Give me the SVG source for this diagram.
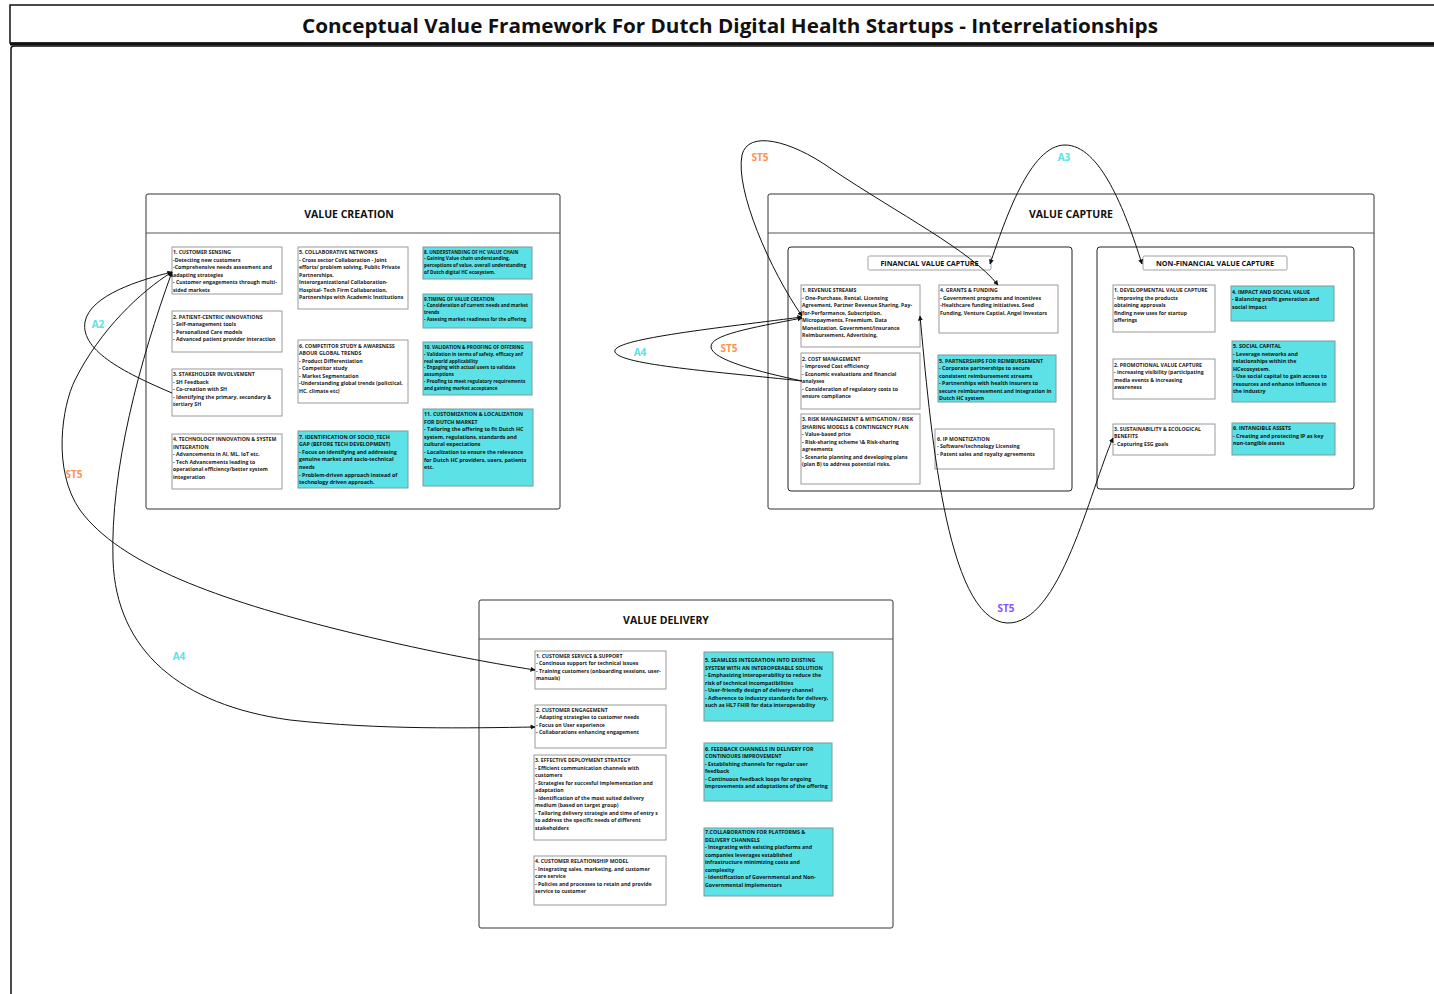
<svg xmlns="http://www.w3.org/2000/svg" width="1434" height="994" viewBox="0 0 1434 994">
  <style>
    .frame{fill:#fff;stroke:#111;stroke-width:1.5}
    .cont{fill:#fff;stroke:#333;stroke-width:1}
    .hdr{stroke:#555;stroke-width:1.2}
    .sub{fill:#fff;stroke:#222;stroke-width:1}
    .lbl{fill:#fff;stroke:#888;stroke-width:0.8}
    .wb{fill:#fff;stroke:#9a9a9a;stroke-width:1}
    .cb{fill:#5ce1e6;stroke:#7a9a9c;stroke-width:1}
    .ctitle{font-family:"Open Sans","Liberation Sans",sans-serif;font-weight:700;font-size:10.5px;fill:#111;text-anchor:middle}
    .stitle{font-family:"Open Sans","Liberation Sans",sans-serif;font-weight:700;font-size:7.2px;fill:#111;text-anchor:middle}
    .t{font-family:"Open Sans","Liberation Sans",sans-serif;font-weight:700;font-size:5.2px;fill:#222}
    .tc{font-family:"Open Sans","Liberation Sans",sans-serif;font-weight:700;font-size:5.3px;fill:#111}
    .ts{font-size:4.7px}
    .conn path{fill:none;stroke:#111;stroke-width:1}
    .tag{font-family:"Open Sans","Liberation Sans",sans-serif;font-weight:700;font-size:10px;text-anchor:middle}
    .or{fill:#ff914d}.cy{fill:#5ce1e6}.pu{fill:#8c52ff}
  </style>
  <defs>
    <marker id="arr" viewBox="0 0 10 10" refX="9" refY="5" markerWidth="5" markerHeight="5" markerUnits="userSpaceOnUse" orient="auto-start-reverse">
      <path d="M0,0 L10,5 L0,10 z" fill="#111"/>
    </marker>
  </defs>

  <rect width="1434" height="994" fill="#fff"/>

  <!-- page frame and title bar -->
  <g id="title">
    <rect class="frame" x="10" y="5" width="1440" height="38"/>
    <line x1="10" y1="44" x2="1440" y2="44" stroke="#111" stroke-width="3"/>
    <path class="frame" d="M11,1000 V49 Q11,46 14,46 H1440" fill="none"/>
    <text x="302" y="33" font-family="Open Sans, Liberation Sans, sans-serif" font-weight="700" font-size="20" fill="#111" textLength="856" lengthAdjust="spacingAndGlyphs">Conceptual Value Framework For Dutch Digital Health Startups - Interrelationships</text>
  </g>

  <!-- VALUE CREATION -->
  <g id="value-creation">
    <rect class="cont" x="146" y="194" width="414" height="315" rx="2"/>
    <line class="hdr" x1="146" y1="233" x2="560" y2="233"/>
    <text class="ctitle" x="349" y="218">VALUE CREATION</text>
  </g>
  <g id="vc-1">
    <rect class="wb" x="172" y="247" width="110" height="47"/>
    <text class="t" y="254"><tspan x="173">1. CUSTOMER SENSING</tspan><tspan x="173" dy="7.5">-Detecting new customers</tspan><tspan x="173" dy="7.5">-Comprehensive needs assesment and</tspan><tspan x="173" dy="7.5">adapting strategies</tspan><tspan x="173" dy="7.5">- Customer engagements through multi-</tspan><tspan x="173" dy="7.5">sided markets</tspan></text>
  </g>
  <g id="vc-2">
    <rect class="wb" x="172" y="311" width="110" height="41"/>
    <text class="t" y="318.5"><tspan x="173">2. PATIENT-CENTRIC INNOVATIONS</tspan><tspan x="173" dy="7.5">- Self-management tools</tspan><tspan x="173" dy="7.5">- Personalized Care models</tspan><tspan x="173" dy="7.5">- Advanced patient provider interaction</tspan></text>
  </g>
  <g id="vc-3">
    <rect class="wb" x="172" y="369" width="110" height="47"/>
    <text class="t" y="376"><tspan x="173">3. STAKEHOLDER INVOLVEMENT</tspan><tspan x="173" dy="7.5">- SH Feedback</tspan><tspan x="173" dy="7.5">- Co-creation with SH</tspan><tspan x="173" dy="7.5">- Identifying the primary, secondary &amp;</tspan><tspan x="173" dy="7.5">tertiary SH</tspan></text>
  </g>
  <g id="vc-4">
    <rect class="wb" x="172" y="434" width="110" height="55"/>
    <text class="t" y="441"><tspan x="173">4. TECHNOLOGY INNOVATION &amp; SYSTEM</tspan><tspan x="173" dy="7.5">INTEGRATION</tspan><tspan x="173" dy="7.5">- Advancements in AI, ML, IoT etc.</tspan><tspan x="173" dy="7.5">- Tech Advancements leading to</tspan><tspan x="173" dy="7.5">operational efficiency/better system</tspan><tspan x="173" dy="7.5">integeration</tspan></text>
  </g>
  <g id="vc-5">
    <rect class="wb" x="298" y="247" width="110" height="62"/>
    <text class="t" y="254"><tspan x="299">5. COLLABORATIVE NETWORKS</tspan><tspan x="299" dy="7.5">- Cross sector Collaboration - Joint</tspan><tspan x="299" dy="7.5">efforts/ problem solving, Public Private</tspan><tspan x="299" dy="7.5">Partnerships,</tspan><tspan x="299" dy="7.5">Interorganizational Collaboration-</tspan><tspan x="299" dy="7.5">Hospital- Tech Firm Collaboration,</tspan><tspan x="299" dy="7.5">Partnerships with Academic Institutions</tspan></text>
  </g>
  <g id="vc-6">
    <rect class="wb" x="298" y="340" width="110" height="63"/>
    <text class="t" y="347.5"><tspan x="299">6. COMPETITOR STUDY &amp; AWARENESS</tspan><tspan x="299" dy="7.5">ABOUR GLOBAL TRENDS</tspan><tspan x="299" dy="7.5">- Product Differentiation</tspan><tspan x="299" dy="7.5">- Competitor study</tspan><tspan x="299" dy="7.5">- Market Segmentation</tspan><tspan x="299" dy="7.5">-Understanding global trends (polictical,</tspan><tspan x="299" dy="7.5">HC, climate etc)</tspan></text>
  </g>
  <g id="vc-7">
    <rect class="cb" x="298" y="431" width="110" height="57"/>
    <text class="tc" y="438.5"><tspan x="299">7. IDENTIFICATION OF SOCIO_TECH</tspan><tspan x="299" dy="7.6">GAP (BEFORE TECH DEVELOPMENT)</tspan><tspan x="299" dy="7.6">- Focus on identifying and addressing</tspan><tspan x="299" dy="7.6">genuine market and socio-technical</tspan><tspan x="299" dy="7.6">needs</tspan><tspan x="299" dy="7.6">- Problem-driven approach instead of</tspan><tspan x="299" dy="7.6">technology driven approach.</tspan></text>
  </g>
  <g id="vc-8">
    <rect class="cb" x="423" y="247" width="109" height="32"/>
    <text class="tc ts" y="253.5"><tspan x="424">8. UNDERSTANDING OF HC VALUE CHAIN</tspan><tspan x="424" dy="6.8">- Gaining Value chain understanding,</tspan><tspan x="424" dy="6.8">perceptions of value, overall understanding</tspan><tspan x="424" dy="6.8">of Dutch digital HC ecosystem.</tspan></text>
  </g>
  <g id="vc-9">
    <rect class="cb" x="423" y="294" width="109" height="34"/>
    <text class="tc ts" y="300.5"><tspan x="424">9.TIMING OF VALUE CREATION</tspan><tspan x="424" dy="6.8">- Consideration of current needs and market</tspan><tspan x="424" dy="6.8">trends</tspan><tspan x="424" dy="6.8">- Assesing market readiness for the offering</tspan></text>
  </g>
  <g id="vc-10">
    <rect class="cb" x="423" y="342" width="109" height="53"/>
    <text class="tc ts" y="349"><tspan x="424">10. VALIDATION &amp; PROOFING OF OFFERING</tspan><tspan x="424" dy="6.8">- Validation in terms of safety, efficacy anf</tspan><tspan x="424" dy="6.8">real world applicability</tspan><tspan x="424" dy="6.8">- Engaging with actual users to validate</tspan><tspan x="424" dy="6.8">assumptions</tspan><tspan x="424" dy="6.8">- Proofing to meet regulatory requirements</tspan><tspan x="424" dy="6.8">and gaining market acceptance</tspan></text>
  </g>
  <g id="vc-11">
    <rect class="cb" x="423" y="409" width="110" height="77"/>
    <text class="tc" y="416"><tspan x="424">11. CUSTOMIZATION &amp; LOCALIZATION</tspan><tspan x="424" dy="7.6">FOR DUTCH MARKET</tspan><tspan x="424" dy="7.6">- Tailoring the offering to fit Dutch HC</tspan><tspan x="424" dy="7.6">system, regulations, standards and</tspan><tspan x="424" dy="7.6">cultural expectations</tspan><tspan x="424" dy="7.6">- Localization to ensure the relevance</tspan><tspan x="424" dy="7.6">for Dutch HC providers, users, patients</tspan><tspan x="424" dy="7.6">etc.</tspan></text>
  </g>

  <!-- VALUE CAPTURE -->
  <g id="value-capture">
    <rect class="cont" x="768" y="194" width="606" height="315" rx="2"/>
    <line class="hdr" x1="768" y1="233" x2="1374" y2="233"/>
    <text class="ctitle" x="1071" y="218">VALUE CAPTURE</text>
  </g>
  <g id="financial">
    <rect class="sub" x="788" y="247" width="284" height="244" rx="3"/>
    <rect class="lbl" x="868" y="256" width="123" height="14" rx="1.5"/>
    <text class="stitle" x="929.5" y="265.5">FINANCIAL VALUE CAPTURE</text>
  </g>
  <g id="fin-1">
    <rect class="wb" x="801" y="285" width="119" height="62"/>
    <text class="t" y="292"><tspan x="802">1. REVENUE STREAMS</tspan><tspan x="802" dy="7.5">- One-Purchase, Rental, Licensing</tspan><tspan x="802" dy="7.5">Agreement, Partner Revenue Sharing, Pay-</tspan><tspan x="802" dy="7.5">for-Performance, Subscription,</tspan><tspan x="802" dy="7.5">Micropayments, Freemium, Data</tspan><tspan x="802" dy="7.5">Monetization, Government/insurance</tspan><tspan x="802" dy="7.5">Reimbursement, Advertising.</tspan></text>
  </g>
  <g id="fin-2">
    <rect class="wb" x="801" y="353" width="119" height="56"/>
    <text class="t" y="360.5"><tspan x="802">2. COST MANAGEMENT</tspan><tspan x="802" dy="7.5">- Improved Cost efficiency</tspan><tspan x="802" dy="7.5">- Economic evaluations and financial</tspan><tspan x="802" dy="7.5">analyses</tspan><tspan x="802" dy="7.5">- Consideration of regulatory costs to</tspan><tspan x="802" dy="7.5">ensure compliance</tspan></text>
  </g>
  <g id="fin-3">
    <rect class="wb" x="801" y="414" width="119" height="70"/>
    <text class="t" y="421"><tspan x="802">3. RISK MANAGEMENT &amp; MITIGATION / RISK</tspan><tspan x="802" dy="7.5">SHARING MODELS &amp; CONTINGENCY PLAN</tspan><tspan x="802" dy="7.5">- Value-based price</tspan><tspan x="802" dy="7.5">- Risk-sharing scheme \&amp; Risk-sharing</tspan><tspan x="802" dy="7.5">agreements</tspan><tspan x="802" dy="7.5">- Scenario planning and developing plans</tspan><tspan x="802" dy="7.5">(plan B) to address potential risks.</tspan></text>
  </g>
  <g id="fin-4">
    <rect class="wb" x="939" y="285" width="119" height="48"/>
    <text class="t" y="292"><tspan x="940">4. GRANTS &amp; FUNDING</tspan><tspan x="940" dy="7.5">- Government programs and incentives</tspan><tspan x="940" dy="7.5">-Healthcare funding initiatives, Seed</tspan><tspan x="940" dy="7.5">Funding, Venture Captial, Angel Investors</tspan></text>
  </g>
  <g id="fin-5">
    <rect class="cb" x="938" y="355" width="118" height="47"/>
    <text class="tc" y="362.5"><tspan x="939">5. PARTNERSHIPS FOR REIMBURSEMENT</tspan><tspan x="939" dy="7.5">- Corporate partnerships to secure</tspan><tspan x="939" dy="7.5">consistent reimbursement streams</tspan><tspan x="939" dy="7.5">- Partnerships with health insurers to</tspan><tspan x="939" dy="7.5">secure reimburesement and integration in</tspan><tspan x="939" dy="7.5">Dutch HC system</tspan></text>
  </g>
  <g id="fin-6">
    <rect class="wb" x="935" y="429" width="119" height="40"/>
    <text class="t" y="440.5"><tspan x="937">6. IP MONETIZATION</tspan><tspan x="937" dy="7.5">- Software/technology Licensing</tspan><tspan x="937" dy="7.5">- Patent sales and royalty agreements</tspan></text>
  </g>

  <g id="non-financial">
    <rect class="sub" x="1097" y="247" width="257" height="242" rx="3"/>
    <rect class="lbl" x="1143" y="256" width="144" height="14" rx="1.5"/>
    <text class="stitle" x="1215" y="265.5">NON-FINANCIAL VALUE CAPTURE</text>
  </g>
  <g id="nf-1">
    <rect class="wb" x="1113" y="285" width="102" height="47"/>
    <text class="t" y="292"><tspan x="1114">1. DEVELOPMENTAL VALUE CAPTURE</tspan><tspan x="1114" dy="7.5">- improving the products</tspan><tspan x="1114" dy="7.5">obtaining approvals</tspan><tspan x="1114" dy="7.5">finding new uses for startup</tspan><tspan x="1114" dy="7.5">offerings</tspan></text>
  </g>
  <g id="nf-2">
    <rect class="wb" x="1113" y="359" width="102" height="40"/>
    <text class="t" y="366.5"><tspan x="1114">2. PROMOTIONAL VALUE CAPTURE</tspan><tspan x="1114" dy="7.5">- increasing visibility (participating</tspan><tspan x="1114" dy="7.5">media events &amp; increasing</tspan><tspan x="1114" dy="7.5">awareness</tspan></text>
  </g>
  <g id="nf-3">
    <rect class="wb" x="1113" y="424" width="102" height="31"/>
    <text class="t" y="430.5"><tspan x="1114">3. SUSTAINABILITY &amp; ECOLOGICAL</tspan><tspan x="1114" dy="7.5">BENEFITS</tspan><tspan x="1114" dy="7.5">- Capturing ESG goals</tspan></text>
  </g>
  <g id="nf-4">
    <rect class="cb" x="1231" y="286" width="103" height="35"/>
    <text class="tc" y="293.5"><tspan x="1232">4. IMPACT AND SOCIAL VALUE</tspan><tspan x="1232" dy="7.5">- Balancing profit generation and</tspan><tspan x="1232" dy="7.5">social impact</tspan></text>
  </g>
  <g id="nf-5">
    <rect class="cb" x="1232" y="341" width="103" height="61"/>
    <text class="tc" y="348"><tspan x="1233">5. SOCIAL CAPITAL</tspan><tspan x="1233" dy="7.5">- Leverage networks and</tspan><tspan x="1233" dy="7.5">relationships within the</tspan><tspan x="1233" dy="7.5">HCecosystem.</tspan><tspan x="1233" dy="7.5">- Use social capital to gain access to</tspan><tspan x="1233" dy="7.5">resources and enhance influence in</tspan><tspan x="1233" dy="7.5">the industry</tspan></text>
  </g>
  <g id="nf-6">
    <rect class="cb" x="1232" y="423" width="103" height="32"/>
    <text class="tc" y="430"><tspan x="1233">6. INTANGIBLE ASSETS</tspan><tspan x="1233" dy="7.5">- Creating and protecting IP as key</tspan><tspan x="1233" dy="7.5">non-tangible assets</tspan></text>
  </g>

  <!-- VALUE DELIVERY -->
  <g id="value-delivery">
    <rect class="cont" x="479" y="600" width="414" height="328" rx="2"/>
    <line class="hdr" x1="479" y1="639" x2="893" y2="639"/>
    <text class="ctitle" x="666" y="624">VALUE DELIVERY</text>
  </g>
  <g id="vd-1">
    <rect class="wb" x="535" y="651" width="131" height="38"/>
    <text class="t" y="657.5"><tspan x="536">1. CUSTOMER SERVICE &amp; SUPPORT</tspan><tspan x="536" dy="7.5">- Continous support for technical issues</tspan><tspan x="536" dy="7.5">- Training customers (onboarding sessions, user-</tspan><tspan x="536" dy="7.5">manuals)</tspan></text>
  </g>
  <g id="vd-2">
    <rect class="wb" x="535" y="705" width="131" height="43"/>
    <text class="t" y="711.5"><tspan x="536">2. CUSTOMER ENGAGEMENT</tspan><tspan x="536" dy="7.5">- Adapting strategies to customer needs</tspan><tspan x="536" dy="7.5">- Focus on User experience</tspan><tspan x="536" dy="7.5">- Collaborations enhancing engagement</tspan></text>
  </g>
  <g id="vd-3">
    <rect class="wb" x="534" y="755" width="132" height="85"/>
    <text class="t" y="762"><tspan x="535">3. EFFECTIVE DEPLOYMENT STRATEGY</tspan><tspan x="535" dy="7.5">- Efficient communication channels with</tspan><tspan x="535" dy="7.5">customers</tspan><tspan x="535" dy="7.5">- Strategies for succesful implementation and</tspan><tspan x="535" dy="7.5">adaptation</tspan><tspan x="535" dy="7.5">- Identification of the most suited delivery</tspan><tspan x="535" dy="7.5">medium (based on target group)</tspan><tspan x="535" dy="7.5">- Tailoring delivery strategie and time of entry s</tspan><tspan x="535" dy="7.5">to address the specific needs of different</tspan><tspan x="535" dy="7.5">stakeholders</tspan></text>
  </g>
  <g id="vd-4">
    <rect class="wb" x="534" y="856" width="132" height="49"/>
    <text class="t" y="863"><tspan x="535">4. CUSTOMER RELATIONSHIP MODEL</tspan><tspan x="535" dy="7.5">- Integrating sales, marketing, and customer</tspan><tspan x="535" dy="7.5">care service</tspan><tspan x="535" dy="7.5">- Policies and processes to retain and provide</tspan><tspan x="535" dy="7.5">service to customer</tspan></text>
  </g>
  <g id="vd-5">
    <rect class="cb" x="704" y="652" width="129" height="69"/>
    <text class="tc" y="662"><tspan x="705">5. SEAMLESS INTEGRATION INTO EXISTING</tspan><tspan x="705" dy="7.5">SYSTEM WITH AN INTEROPERABLE SOLUTION</tspan><tspan x="705" dy="7.5">- Emphasizing interoperability to reduce the</tspan><tspan x="705" dy="7.5">risk of technical incompatibilities</tspan><tspan x="705" dy="7.5">- User-friendly design of delivery channel</tspan><tspan x="705" dy="7.5">- Adherence to industry standards for delivery,</tspan><tspan x="705" dy="7.5">such as HL7 FHIR for data interoperability</tspan></text>
  </g>
  <g id="vd-6">
    <rect class="cb" x="704" y="743" width="128" height="58"/>
    <text class="tc" y="750.5"><tspan x="705">6. FEEDBACK CHANNELS IN DELIVERY FOR</tspan><tspan x="705" dy="7.5">CONTINOURS IMPROVEMENT</tspan><tspan x="705" dy="7.5">- Establishing channels for regular user</tspan><tspan x="705" dy="7.5">feedback</tspan><tspan x="705" dy="7.5">- Continuous feedback loops for ongoing</tspan><tspan x="705" dy="7.5">improvements and adaptations of the offering</tspan></text>
  </g>
  <g id="vd-7">
    <rect class="cb" x="704" y="828" width="129" height="68"/>
    <text class="tc" y="834"><tspan x="705">7.COLLABORATION FOR PLATFORMS &amp;</tspan><tspan x="705" dy="7.5">DELIVERY CHANNELS</tspan><tspan x="705" dy="7.5">-  Integrating with existing platforms and</tspan><tspan x="705" dy="7.5">companies leverages established</tspan><tspan x="705" dy="7.5">infrastructure minimizing costs and</tspan><tspan x="705" dy="7.5">complexity</tspan><tspan x="705" dy="7.5">- Identification of Governmental and Non-</tspan><tspan x="705" dy="7.5">Governmental implementors</tspan></text>
  </g>

  <!-- interrelationship connectors -->
  <g id="connectors" class="conn">
    <path d="M172,393 C130,375 80,352 85,322 C90,295 140,280 172,272" marker-end="url(#arr)"/>
    <path d="M172,272 C140,292 100,330 75,380 C62,406 52,470 80,510 C120,565 220,600 340,630 C420,650 490,663 535,670" marker-start="url(#arr)" marker-end="url(#arr)"/>
    <path d="M172,272 C140,360 110,470 113,560 C116,650 180,705 290,720 C380,730 470,728 535,727" marker-start="url(#arr)" marker-end="url(#arr)"/>
    <path d="M802,316 C770,270 735,190 742,155 C748,130 790,140 830,168 C900,215 970,250 998,285" marker-start="url(#arr)" marker-end="url(#arr)"/>
    <path d="M990,264 C1005,220 1030,145 1065,145 C1100,145 1125,210 1142,264" marker-start="url(#arr)" marker-end="url(#arr)"/>
    <path d="M802,317 C700,330 610,340 615,352 C620,365 720,372 802,381" marker-start="url(#arr)"/>
    <path d="M802,318 C750,328 710,335 711,347 C712,360 760,372 802,381" marker-start="url(#arr)"/>
    <path d="M920,316 C930,420 945,620 1007,623 C1060,625 1090,490 1113,438" marker-start="url(#arr)" marker-end="url(#arr)"/>
  </g>

  <g id="connector-labels">
    <text class="tag cy" x="98" y="328">A2</text>
    <text class="tag or" x="74" y="478">ST5</text>
    <text class="tag cy" x="179" y="660">A4</text>
    <text class="tag or" x="760" y="161">ST5</text>
    <text class="tag cy" x="1064" y="161">A3</text>
    <text class="tag cy" x="640" y="356">A4</text>
    <text class="tag or" x="729" y="352">ST5</text>
    <text class="tag pu" x="1006" y="612">ST5</text>
  </g>
</svg>
